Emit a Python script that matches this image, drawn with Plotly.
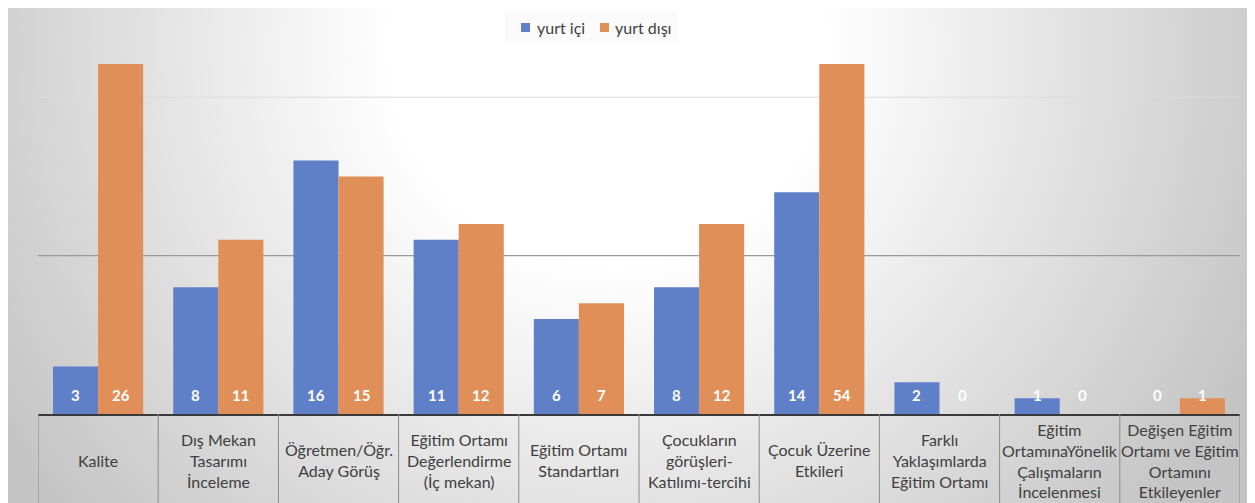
import base64
import plotly.graph_objects as go

categories = [
    "Kalite",
    "Dış Mekan<br>Tasarımı<br>İnceleme",
    "Öğretmen/Öğr.<br>Aday Görüş",
    "Eğitim Ortamı<br>Değerlendirme<br>(İç mekan)",
    "Eğitim Ortamı<br>Standartları",
    "Çocukların<br>görüşleri-<br>Katılımı-tercihi",
    "Çocuk Üzerine<br>Etkileri",
    "Farklı<br>Yaklaşımlarda<br>Eğitim Ortamı",
    "Eğitim<br>OrtamınaYönelik<br>Çalışmaların<br>İncelenmesi",
    "Değişen Eğitim<br>Ortamı ve Eğitim<br>Ortamını<br>Etkileyenler",
]
yurt_ici = [3, 8, 16, 11, 6, 8, 14, 2, 1, 0]
yurt_disi = [26, 11, 15, 12, 7, 12, 54, 0, 0, 1]
series_names = ["yurt içi", "yurt dışı"]
grid_values = [10, 20]
y_max = 22.1

BLUE = "#5F7FC9"
ORANGE = "#E08F58"
TEXT = "#404040"
FONT = "Lato, Open Sans, sans-serif"

OFF = 8  # page body margin
W, H = 1255 - OFF, 503 - OFF
ML, MT, MB = 30, 56, 89
PW = 1202
PH = H - MT - MB
MR = W - ML - PW


def px(x):  # screen pixel x -> paper x
    return (x - OFF - ML) / PW


def py(y):  # screen pixel y -> paper y
    return 1 - (y - OFF - MT) / PH


fig = go.Figure()
colors = [BLUE, ORANGE]
for name, vals, col in zip(series_names, [yurt_ici, yurt_disi], colors):
    fig.add_trace(go.Bar(name=name, x=list(range(len(categories))), y=vals,
                         marker=dict(color=col, line=dict(width=0)), showlegend=False))

annotations = []
off = 0.1875
for i, (a, b) in enumerate(zip(yurt_ici, yurt_disi)):
    for dx, v in ((-off, a), (off, b)):
        annotations.append(dict(x=i + dx, y=1.2, xref="x", yref="y", text=f"<b>{v}</b>",
                                showarrow=False, font=dict(family=FONT, size=15, color="white"),
                                xanchor="center", yanchor="middle"))
    annotations.append(dict(x=i, y=py(460), xref="x", yref="paper", text=categories[i],
                            showarrow=False, font=dict(family=FONT, size=16, color=TEXT),
                            xanchor="center", yanchor="middle", align="center"))

shapes = []
for g, col in zip(grid_values, ["#9a9a9a", "#dcdcdc"]):
    shapes.append(dict(type="line", xref="paper", yref="y", x0=0, x1=1, y0=g, y1=g,
                       line=dict(color=col, width=1.2), layer="below"))
for k in range(len(categories) + 1):
    shapes.append(dict(type="line", xref="x", yref="paper", x0=k - 0.5, x1=k - 0.5,
                       y0=0, y1=py(503), line=dict(color="#8c8c8c", width=1)))

# manual legend
shapes.append(dict(type="rect", xref="paper", yref="paper", x0=px(505), x1=px(678),
                   y0=py(43), y1=py(10), fillcolor="rgba(250,250,250,0.8)", line=dict(width=0),
                   layer="below"))
leg_sq = [521, 600]
leg_tx = [535, 613]
for name, col, sx, tx in zip(series_names, colors, leg_sq, leg_tx):
    shapes.append(dict(type="rect", xref="paper", yref="paper", x0=px(sx), x1=px(sx + 9),
                       y0=py(32), y1=py(23), fillcolor=col, line=dict(width=0)))
    annotations.append(dict(x=px(tx), y=py(27), xref="paper", yref="paper", text=name,
                            showarrow=False, xanchor="left", yanchor="middle",
                            font=dict(family=FONT, size=16, color=TEXT)))

svg = f"""<svg xmlns='http://www.w3.org/2000/svg' width='{W}' height='{H}' viewBox='0 0 {W} {H}' preserveAspectRatio='none'>
<defs><radialGradient id='g' gradientUnits='userSpaceOnUse' cx='600' cy='40' r='720'>
<stop offset='0' stop-color='#ffffff'/><stop offset='0.3' stop-color='#ffffff'/>
<stop offset='1' stop-color='#c4c4c4'/></radialGradient></defs>
<rect x='0' y='0' width='{W}' height='{H}' fill='url(#g)'/></svg>"""
src = "data:image/svg+xml;base64," + base64.b64encode(svg.encode()).decode()

fig.update_layout(
    width=W, height=H,
    margin=dict(l=ML, r=MR, t=MT, b=MB, pad=0),
    paper_bgcolor="white", plot_bgcolor="rgba(0,0,0,0)",
    barmode="group", bargap=0.25, bargroupgap=0,
    font=dict(family=FONT, color=TEXT),
    showlegend=False,
    xaxis=dict(range=[-0.5, len(categories) - 0.5], showticklabels=False, showgrid=False,
               zeroline=False, showline=True, linecolor="#3a3a3a", linewidth=2, ticks=""),
    yaxis=dict(range=[0, y_max], showticklabels=False, showgrid=False, zeroline=False,
               showline=False, ticks=""),
    annotations=annotations,
    shapes=shapes,
    images=[dict(source=src, xref="paper", yref="paper", x=-ML / PW, y=1 + MT / PH,
                 sizex=W / PW, sizey=H / PH, sizing="stretch", layer="below",
                 xanchor="left", yanchor="top")],
)

fig.write_html("out.html")
